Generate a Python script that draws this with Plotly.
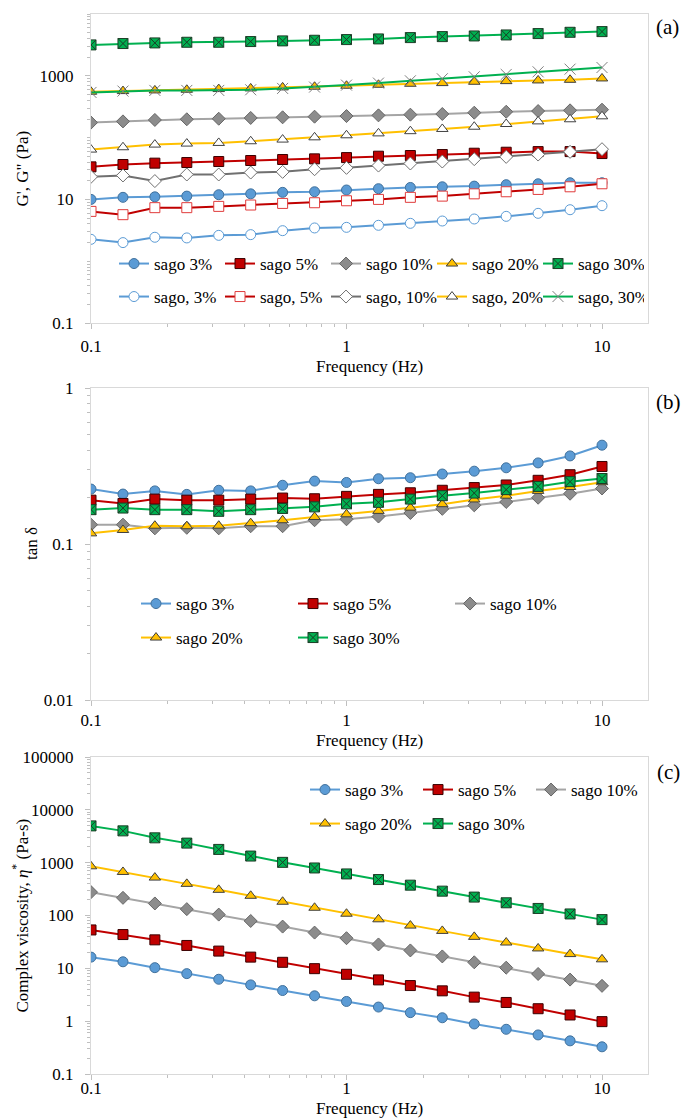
import plotly.graph_objects as go

# ---------------- data ----------------
freq = [0.1, 0.1334, 0.1778, 0.2371, 0.3162, 0.4217, 0.5623, 0.7499, 1.0,
        1.334, 1.778, 2.371, 3.162, 4.217, 5.623, 7.499, 10.0]

concentrations = ["3%", "5%", "10%", "20%", "30%"]

# (a) storage modulus G' (filled symbols)
g1_3 = [10.0, 10.8, 11.0, 11.3, 11.9, 12.3, 13.0, 13.3, 14.2, 14.9, 15.6, 16.0, 16.4, 17.3, 17.9, 18.6, 18.6]
g1_5 = [33.6, 36.7, 38.6, 39.5, 41.0, 42.6, 44.2, 45.3, 47.5, 50.0, 51.3, 53.2, 55.9, 58.0, 59.4, 59.4, 55.2]
g1_10 = [175, 183, 193, 198, 202, 208, 213, 218, 223, 229, 235, 241, 253, 262, 269, 276, 283]
g1_20 = [552, 566, 580, 594, 610, 625, 649, 665, 690, 716, 743, 762, 800, 820, 841, 861, 906]
g1_30 = [3162, 3327, 3406, 3491, 3491, 3581, 3673, 3759, 3855, 3953, 4150, 4305, 4416, 4581, 4819, 5058, 5190]

# (a) loss modulus G'' (open symbols)
g2_3 = [2.26, 2.00, 2.44, 2.38, 2.62, 2.69, 3.12, 3.45, 3.53, 3.81, 4.10, 4.47, 4.82, 5.32, 5.95, 6.81, 7.91]
g2_5 = [6.40, 5.66, 7.35, 7.35, 7.71, 8.11, 8.61, 8.83, 9.51, 10.0, 10.8, 11.3, 12.3, 13.3, 14.5, 16.0, 17.9]
g2_10 = [23.2, 24.4, 19.8, 25.3, 25.3, 27.2, 27.9, 30.8, 32.4, 35.3, 38.1, 41.0, 44.8, 48.8, 53.2, 58.8, 64.9]
g2_20 = [64.0, 69.8, 77.1, 80.0, 82.0, 87.3, 92.9, 101, 109, 117, 127, 138, 150, 166, 183, 198, 221]
g2_30 = [538, 566, 580, 580, 580, 594, 625, 657, 707, 762, 830, 895, 963, 1051, 1160, 1281, 1362]

# (b) tan delta
td_3 = [0.225, 0.209, 0.219, 0.208, 0.221, 0.219, 0.238, 0.253, 0.248, 0.262, 0.266, 0.281, 0.293, 0.308, 0.331, 0.367, 0.430]
td_5 = [0.191, 0.182, 0.194, 0.191, 0.191, 0.194, 0.197, 0.195, 0.202, 0.208, 0.213, 0.221, 0.230, 0.239, 0.256, 0.278, 0.314]
td_10 = [0.133, 0.133, 0.126, 0.127, 0.126, 0.130, 0.130, 0.142, 0.144, 0.150, 0.158, 0.168, 0.177, 0.186, 0.198, 0.210, 0.227]
td_20 = [0.117, 0.123, 0.131, 0.130, 0.131, 0.136, 0.142, 0.149, 0.155, 0.163, 0.171, 0.180, 0.193, 0.204, 0.219, 0.232, 0.249]
td_30 = [0.166, 0.170, 0.166, 0.166, 0.162, 0.166, 0.169, 0.173, 0.181, 0.185, 0.194, 0.204, 0.212, 0.223, 0.234, 0.251, 0.263]

# (c) complex viscosity
eta_3 = [16.3, 13.3, 10.3, 7.94, 6.21, 4.86, 3.80, 3.02, 2.36, 1.85, 1.45, 1.16, 0.885, 0.702, 0.549, 0.424, 0.327]
eta_5 = [53.3, 43.6, 34.6, 27.1, 21.2, 16.3, 13.0, 9.86, 7.71, 6.04, 4.72, 3.75, 2.85, 2.26, 1.72, 1.31, 0.98]
eta_10 = [277, 216, 169, 132, 104, 78.8, 61.7, 47.5, 37.2, 28.3, 21.8, 16.8, 13.0, 10.3, 7.82, 6.12, 4.66]
eta_20 = [853, 667, 522, 397, 306, 236, 182, 140, 108, 84.7, 64.4, 51.1, 39.4, 30.8, 23.8, 18.6, 14.8]
eta_30 = [4966, 4000, 2951, 2344, 1782, 1334, 1014, 794, 612, 479, 375, 289, 223, 174, 136, 107, 83.6]

x_ticks = [0.1, 1, 10]
x_ticktext = ["0.1", "1", "10"]
ya_ticks = [0.1, 10, 1000]
ya_ticktext = ["0.1", "10", "1000"]
yb_ticks = [0.01, 0.1, 1]
yb_ticktext = ["0.01", "0.1", "1"]
yc_ticks = [0.1, 1, 10, 100, 1000, 10000, 100000]
yc_ticktext = ["0.1", "1", "10", "100", "1000", "10000", "100000"]

# ---------------- styles ----------------
FONT = "Liberation Serif"
W, H = 687, 1118
ML, MR = 91, 39
PW = W - ML - MR

def px_x(p):
    return (p - ML) / PW

def px_y(p):
    return 1 - p / H

filled_style = {
    "3%":  dict(line="#5B9BD5", symbol="circle", fill="#5B9BD5", edge="#41719C", size=10),
    "5%":  dict(line="#C00000", symbol="square", fill="#C00000", edge="#3a0000", size=10),
    "10%": dict(line="#A5A5A5", symbol="diamond", fill="#8C8C8C", edge="#666666", size=10),
    "20%": dict(line="#FFC000", symbol="triangle-up", fill="#FFC000", edge="#3f3f3f", size=10),
    "30%": dict(line="#00B050", symbol="square-x", fill="#00B050", edge="#1b3d26", size=10),
}
open_style = {
    "3%":  dict(line="#5B9BD5", symbol="circle", fill="white", edge="#5B9BD5", size=10),
    "5%":  dict(line="#C00000", symbol="square", fill="white", edge="#E03C3C", size=10),
    "10%": dict(line="#707070", symbol="diamond", fill="white", edge="#707070", size=10),
    "20%": dict(line="#FFC000", symbol="triangle-up", fill="white", edge="#404040", size=10),
    "30%": dict(line="#00B050", symbol="x-thin-open", fill="#808080", edge="#808080", size=11),
}

fig = go.Figure()

def add(y, name, st, xa, ya, legend):
    fig.add_trace(go.Scatter(
        x=freq, y=y, name=name, mode="lines+markers",
        xaxis=xa, yaxis=ya, legend=legend,
        line=dict(color=st["line"], width=2),
        marker=dict(symbol=st["symbol"], size=st["size"], color=st["fill"],
                    line=dict(color=st["edge"], width=1)),
    ))

# panel (a)
g1 = [g1_3, g1_5, g1_10, g1_20, g1_30]
g2 = [g2_3, g2_5, g2_10, g2_20, g2_30]
for c, y in zip(concentrations, g1):
    add(y, "sago " + c, filled_style[c], "x", "y", "legend")
for c, y in zip(concentrations, g2):
    add(y, "sago, " + c, open_style[c], "x", "y", "legend2")

# panel (b)
td = [td_3, td_5, td_10, td_20, td_30]
for i, (c, y) in enumerate(zip(concentrations, td)):
    add(y, "sago " + c, filled_style[c], "x2", "y2", "legend3" if i < 3 else "legend4")

# panel (c)
eta = [eta_3, eta_5, eta_10, eta_20, eta_30]
for i, (c, y) in enumerate(zip(concentrations, eta)):
    add(y, "sago " + c, filled_style[c], "x3", "y3", "legend5" if i < 3 else "legend6")

minor_vals = [m * 10.0 ** d for d in range(-3, 6) for m in range(1, 10)]

AXC = "#D9D9D9"
TICKC = "#BFBFBF"

def xaxis(anchor, standoff_lab):
    return dict(
        type="log", range=[-1, 1.18], anchor=anchor, automargin=False,
        tickmode="array", tickvals=x_ticks, ticktext=x_ticktext,
        ticks="outside", ticklen=5, tickcolor=TICKC, ticklabelstandoff=standoff_lab,
        minor=dict(tickmode="array", tickvals=minor_vals, ticks="outside", ticklen=3, tickcolor=TICKC),
        showline=True, linecolor=AXC, linewidth=1, mirror=True,
        showgrid=False, zeroline=False,
        tickfont=dict(family=FONT, size=17, color="black"),
        domain=[0, 1],
    )

def yaxis(anchor, dom, rng, tv, tt):
    return dict(
        type="log", range=rng, anchor=anchor, domain=dom, automargin=False,
        tickmode="array", tickvals=tv, ticktext=tt,
        ticks="outside", ticklen=5, tickcolor=TICKC, ticklabelstandoff=8,
        minor=dict(tickmode="array", tickvals=minor_vals, ticks="outside", ticklen=3, tickcolor=TICKC),
        showline=True, linecolor=AXC, linewidth=1, mirror=True,
        showgrid=False, zeroline=False,
        tickfont=dict(family=FONT, size=17, color="black"),
    )

dom_a = [px_y(323), px_y(14)]
dom_b = [px_y(700), px_y(388)]
dom_c = [px_y(1074), px_y(757)]

legend_common = dict(orientation="h", xanchor="left", yanchor="middle",
                     bgcolor="rgba(0,0,0,0)", borderwidth=0,
                     font=dict(family=FONT, size=17, color="black"),
                     entrywidthmode="pixels", itemwidth=30, tracegroupgap=0,
                     xref="paper", yref="paper")

fig.update_layout(
    width=W, height=H,
    margin=dict(l=ML, r=MR, t=0, b=0, autoexpand=False),
    paper_bgcolor="white", plot_bgcolor="white",
    font=dict(family=FONT, size=17, color="black"),
    xaxis=xaxis("y", 3),
    xaxis2=xaxis("y2", 0),
    xaxis3=xaxis("y3", -6),
    yaxis=yaxis("x", dom_a, [-1, 4], ya_ticks, ya_ticktext),
    yaxis2=yaxis("x2", dom_b, [-2, 0], yb_ticks, yb_ticktext),
    yaxis3=yaxis("x3", dom_c, [-1, 5], yc_ticks, yc_ticktext),
    legend=dict(legend_common, x=px_x(114), y=px_y(264), entrywidth=61),
    legend2=dict(legend_common, x=px_x(114), y=px_y(297), entrywidth=61),
    legend3=dict(legend_common, x=px_x(136), y=px_y(604), entrywidth=112),
    legend4=dict(legend_common, x=px_x(136), y=px_y(638), entrywidth=112),
    legend5=dict(legend_common, x=px_x(305), y=px_y(790), entrywidth=68),
    legend6=dict(legend_common, x=px_x(305), y=px_y(824), entrywidth=68),
    showlegend=True,
)

ann_font = dict(family=FONT, size=17, color="black")
lab_font = dict(family=FONT, size=21, color="black")
annotations = [
    # x-axis titles
    dict(text="Frequency (Hz)", x=0.5, y=px_y(366), xref="x domain", yref="paper",
         showarrow=False, font=ann_font, xanchor="center", yanchor="middle"),
    dict(text="Frequency (Hz)", x=0.5, y=px_y(740), xref="x2 domain", yref="paper",
         showarrow=False, font=ann_font, xanchor="center", yanchor="middle"),
    dict(text="Frequency (Hz)", x=0.5, y=px_y(1108), xref="x3 domain", yref="paper",
         showarrow=False, font=ann_font, xanchor="center", yanchor="middle"),
    # y-axis titles
    dict(text="G', G\" (Pa)", x=px_x(22), y=0.5, xref="paper", yref="y domain",
         textangle=-90, showarrow=False, font=ann_font, xanchor="center", yanchor="middle"),
    dict(text="tan δ", x=px_x(31), y=0.5, xref="paper", yref="y2 domain",
         textangle=-90, showarrow=False, font=ann_font, xanchor="center", yanchor="middle"),
    dict(text="Complex viscosity, <i>η</i><sup>*</sup> (Pa-s)", x=px_x(20), y=0.5, xref="paper",
         yref="y3 domain", textangle=-90, showarrow=False, font=ann_font,
         xanchor="center", yanchor="middle"),
    # panel labels
    dict(text="(a)", x=px_x(667), y=px_y(27), xref="paper", yref="paper", showarrow=False,
         font=lab_font, xanchor="center", yanchor="middle"),
    dict(text="(b)", x=px_x(668), y=px_y(402), xref="paper", yref="paper", showarrow=False,
         font=lab_font, xanchor="center", yanchor="middle"),
    dict(text="(c)", x=px_x(668), y=px_y(772), xref="paper", yref="paper", showarrow=False,
         font=lab_font, xanchor="center", yanchor="middle"),
]
fig.update_layout(annotations=annotations)

fig.write_html("out.html")
